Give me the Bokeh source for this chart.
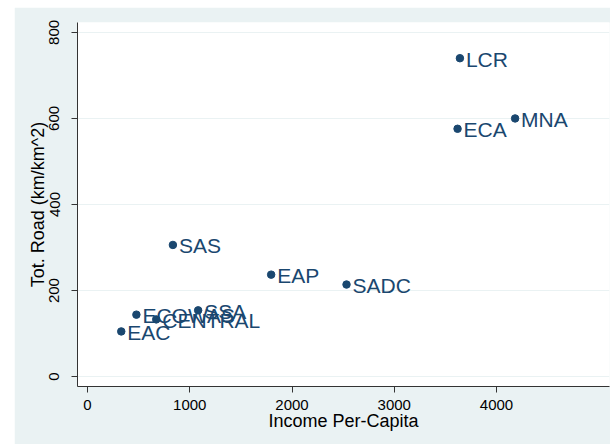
from bokeh.plotting import figure
from bokeh.models import ColumnDataSource, FixedTicker, Range1d
from bokeh.embed import file_html
from bokeh.resources import INLINE
from bokeh.core.properties import value

regions = ["LCR", "MNA", "ECA", "SAS", "EAP", "SADC", "ECOWAS", "SSA", "CENTRAL", "EAC"]
income = [3642, 4182, 3619, 835, 1796, 2533, 478, 1082, 672, 330]
road = [740, 600, 576, 306, 237, 214, 144, 154, 133, 105]
x_ticks = [0, 1000, 2000, 3000, 4000]
y_ticks = [0, 200, 400, 600, 800]

BG = "#EAF2F3"
NAVY = "#1A476F"
FONT = "Liberation Sans"

src = ColumnDataSource(dict(x=income, y=road, name=regions))

p = figure(width=596, height=437, output_backend="svg", toolbar_location=None,
           x_range=Range1d(-98, 5105), y_range=Range1d(-23, 823),
           min_border_left=63, min_border_right=1, min_border_top=15, min_border_bottom=58)
p.margin = (7, 0, 0, 14)
p.background_fill_color = "white"
p.border_fill_color = BG
p.outline_line_color = None

p.scatter("x", "y", source=src, size=7.5, color=NAVY, line_color=NAVY)
p.text("x", "y", text="name", source=src, x_offset=6, y_offset=1,
       text_font=value(FONT), text_font_size="21px", text_color=NAVY,
       text_baseline="middle", text_align="left")

p.xgrid.visible = False
p.ygrid.grid_line_color = BG
p.ygrid.grid_line_width = 1

p.xaxis.ticker = FixedTicker(ticks=x_ticks)
p.yaxis.ticker = FixedTicker(ticks=y_ticks)
for ax in (p.xaxis, p.yaxis):
    ax.axis_line_color = "#333333"
    ax.major_tick_line_color = "#333333"
    ax.major_tick_out = 6
    ax.major_tick_in = 0
    ax.minor_tick_line_color = None
    ax.major_label_text_font = FONT
    ax.major_label_text_font_size = "15px"
    ax.major_label_text_color = "black"
    ax.axis_label_text_font = FONT
    ax.axis_label_text_font_size = "18px"
    ax.axis_label_text_font_style = "normal"
    ax.axis_label_text_color = "black"

p.xaxis.axis_label = "Income Per-Capita"
p.yaxis.axis_label = "Tot. Road (km/km^2)"
p.xaxis.major_label_standoff = 7
p.xaxis.axis_label_standoff = -2
p.yaxis.major_label_orientation = "vertical"
p.yaxis.major_label_standoff = 12
p.yaxis.axis_label_standoff = -1

open("out.html", "w").write(file_html(p, INLINE))
